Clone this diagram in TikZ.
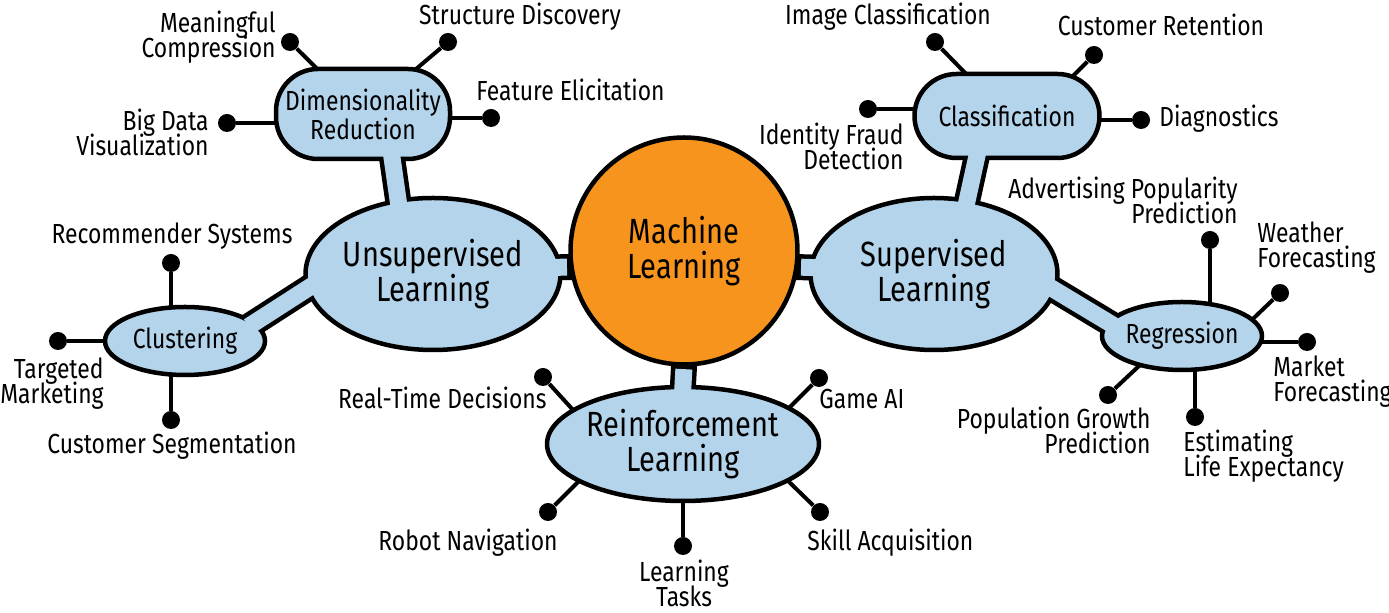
\documentclass[tikz,border=0pt]{standalone}
\usepackage{fontspec}
\setmainfont[FakeStretch=0.83]{Fira Sans}
\usetikzlibrary{shapes.geometric,backgrounds}
\definecolor{mlblue}{RGB}{180,212,235}
\definecolor{mlorange}{RGB}{247,148,30}
\newcommand{\mlsmall}{\fontsize{13.8}{12.5}\selectfont\lineskiplimit=-20pt}
\newcommand{\mlbig}{\fontsize{17.5}{17.75}\selectfont\lineskiplimit=-20pt}
\tikzset{
    topic/.style={ellipse, draw=black, fill=mlblue, line width=2.25pt, inner sep=0pt, align=center, font=\mlbig},
    subtopic/.style={topic, font=\mlsmall},
    blob/.style={subtopic, rectangle, rounded corners=21pt},
    dot/.style={circle, fill=black, inner sep=0pt, minimum size=9pt},
    pin/.style={line width=2pt},
    lbl/.style={font=\mlsmall, inner sep=0pt},
    barout/.style={line width=13pt, black, shorten <=-5pt, shorten >=-5pt},
    barin/.style={line width=8.5pt, mlblue, shorten <=-4pt, shorten >=-4pt},
}

\begin{document}
\begin{tikzpicture}[x=0.5pt, y=-0.5pt]
    \useasboundingbox (0,0) rectangle (1389,613);
    % The main topics.
        \node[topic, circle, fill=mlorange, minimum size=113.5pt] (ml) at (684,251) {Machine\\Learning};
        \node[topic, minimum width=123.5pt, minimum height=76pt] (unsup) at (433,274) {Unsupervised\\Learning};
        \node[topic, minimum width=123.5pt, minimum height=76pt] (sup) at (934,274) {Supervised\\Learning};
        \node[topic, minimum width=134.5pt, minimum height=57pt] (reinf) at (683,444) {Reinforcement\\Learning};
    % The sub topics.
        \node[blob, minimum width=87pt, minimum height=45pt] (dimred) at (363,114) {Dimensionality\\[2pt]Reduction};
        \node[subtopic, minimum width=80pt, minimum height=34pt] (clust) at (185,341) {Clustering};
        \node[blob, minimum width=92.5pt, minimum height=42pt] (classif) at (1007,116) {Classification};
        \node[subtopic, minimum width=80pt, minimum height=34pt] (regress) at (1182,336) {Regression};
    % Dots at the ends of the pins.
        \node[dot] (dMC) at (290,42) {};
        \node[dot] (dSD) at (448,42) {};
        \node[dot] (dFE) at (491,118) {};
        \node[dot] (dBDV) at (227,123) {};
        \node[dot] (dRS) at (171,263) {};
        \node[dot] (dTM) at (58,341) {};
        \node[dot] (dCS) at (171,420) {};
        \node[dot] (dRTD) at (543,377) {};
        \node[dot] (dGA) at (819,378) {};
        \node[dot] (dRN) at (548,512) {};
        \node[dot] (dLT) at (683,546) {};
        \node[dot] (dSA) at (820,512) {};
        \node[dot] (dIC) at (935,42) {};
        \node[dot] (dCR) at (1094,55) {};
        \node[dot] (dDiag) at (1141,120) {};
        \node[dot] (dIFD) at (868,109) {};
        \node[dot] (dAPP) at (1210,240) {};
        \node[dot] (dWF) at (1280,293) {};
        \node[dot] (dMF) at (1307,342) {};
        \node[dot] (dELE) at (1195,417) {};
        \node[dot] (dPGP) at (1108,395) {};
    % Below nodes are the labels (base = last line).
        \node[lbl, anchor=base east, align=right] (lMC) at (276,58) {Meaningful\\Compression};
        \node[lbl, anchor=base] (lSD) at (520,25) {Structure Discovery};
        \node[lbl, anchor=base west] (lFE) at (476,101) {Feature Elicitation};
        \node[lbl, anchor=base east, align=right] (lBDV) at (209,156) {Big Data\\Visualization};
        \node[lbl, anchor=base] (lRS) at (172,244) {Recommender Systems};
        \node[lbl, anchor=base east, align=right] (lTM) at (104,404) {Targeted\\Marketing};
        \node[lbl, anchor=base] (lCS) at (172,454) {Customer Segmentation};
        \node[lbl, anchor=base east] (lRTD) at (547,409) {Real-Time Decisions};
        \node[lbl, anchor=base west] (lGA) at (819,409) {Game AI};
        \node[lbl, anchor=base east] (lRN) at (558,551) {Robot Navigation};
        \node[lbl, anchor=base, align=center] (lLT) at (684,607) {Learning\\Tasks};
        \node[lbl, anchor=base west] (lSA) at (807,551) {Skill Acquisition};
        \node[lbl, anchor=base] (lIC) at (888,25) {Image Classification};
        \node[lbl, anchor=base] (lCR) at (1161,36) {Customer Retention};
        \node[lbl, anchor=base west] (lDiag) at (1159,127) {Diagnostics};
        \node[lbl, anchor=base east, align=right] (lIFD) at (904,170) {Identity Fraud\\Detection};
        \node[lbl, anchor=base east, align=right] (lAPP) at (1238,224) {Advertising Popularity\\Prediction};
        \node[lbl, anchor=base west, align=left] (lWF) at (1257,268) {Weather\\Forecasting};
        \node[lbl, anchor=base west, align=left] (lMF) at (1273,402) {Market\\Forecasting};
        \node[lbl, anchor=base west, align=left] (lELE) at (1183,477) {Estimating\\Life Expectancy};
        \node[lbl, anchor=base east, align=right] (lPGP) at (1151,454) {Population Growth\\Prediction};
    % Pins and bar outlines sit behind the nodes.
    \begin{scope}[on background layer]
        \draw[pin] (dMC) -- (dimred.center);
        \draw[pin] (dSD) -- (dimred.center);
        \draw[pin] (dFE) -- ([yshift=-2pt]dimred.center);
        \draw[pin] (dBDV) -- ([yshift=-4.5pt]dimred.center);
        \draw[pin] (dRS) -- ([xshift=-7pt]clust.center);
        \draw[pin] (dTM) -- (clust.center);
        \draw[pin] (dCS) -- ([xshift=-7pt]clust.center);
        \draw[pin] (dRTD) -- ([xshift=-39.5pt]reinf.center);
        \draw[pin] (dGA) -- ([xshift=35pt]reinf.center);
        \draw[pin] (dRN) -- ([xshift=-33.5pt]reinf.center);
        \draw[pin] (dLT) -- (reinf.center);
        \draw[pin] (dSA) -- ([xshift=33.5pt]reinf.center);
        \draw[pin] (dIC) -- (classif.center);
        \draw[pin] (dCR) -- ([xshift=13pt]classif.center);
        \draw[pin] (dDiag) -- ([yshift=-2pt]classif.center);
        \draw[pin] (dIFD) -- ([yshift=3.5pt]classif.center);
        \draw[pin] (dAPP) -- ([xshift=14pt]regress.center);
        \draw[pin] (dWF) -- ([xshift=26.5pt]regress.center);
        \draw[pin] (dMF) -- ([yshift=-3pt]regress.center);
        \draw[pin] (dELE) -- ([xshift=6.5pt]regress.center);
        \draw[pin] (dPGP) -- ([xshift=-5.5pt]regress.center);
        \draw[barout] (ml.188) -- (unsup.3);
        \draw[barout] (ml.-8) -- (sup.177);
        \draw[barout] (ml.south) -- (reinf.north);
        \draw[barout] (dimred.-58) -- (unsup.115);
        \draw[barout] (clust.15) -- (unsup.187);
        \draw[barout] (classif.235) -- (sup.66);
        \draw[barout] (sup.-8) -- (regress.169);
    \end{scope}
    % Blue inside of the bars, over the outlines.
        \draw[barin, shorten <=1.2pt] (ml.188) -- (unsup.3);
        \draw[barin, shorten <=1.2pt] (ml.-8) -- (sup.177);
        \draw[barin, shorten <=1.2pt] (ml.south) -- (reinf.north);
        \draw[barin] (dimred.-58) -- (unsup.115);
        \draw[barin] (clust.15) -- (unsup.187);
        \draw[barin] (classif.235) -- (sup.66);
        \draw[barin] (sup.-8) -- (regress.169);
\end{tikzpicture}
\end{document}
